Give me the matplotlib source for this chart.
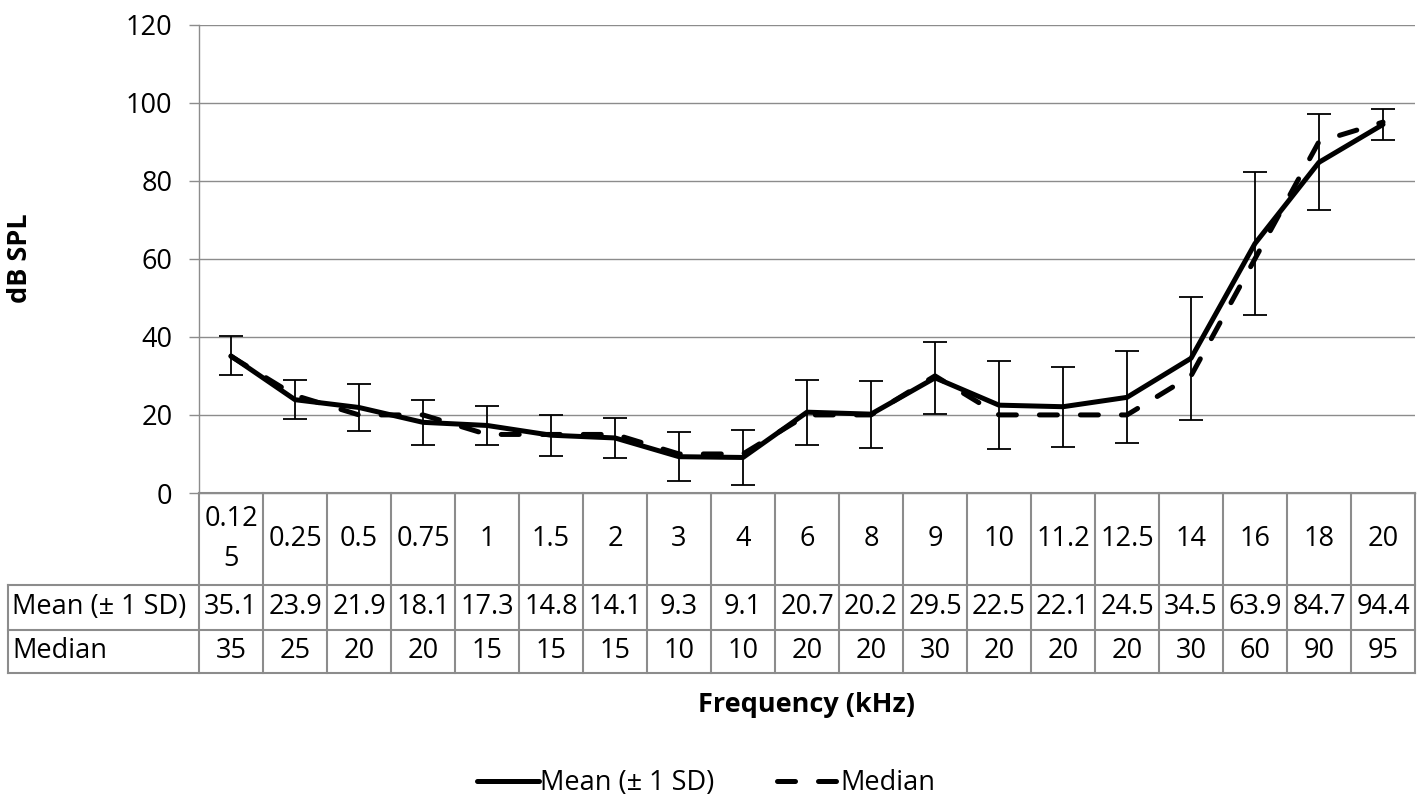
import matplotlib
matplotlib.use("Agg")
import matplotlib.pyplot as plt
import matplotlib.transforms as mtransforms
from matplotlib.lines import Line2D

# Datos
frecuencias = ["0.125", "0.25", "0.5", "0.75", "1", "1.5", "2", "3", "4", "6",
               "8", "9", "10", "11.2", "12.5", "14", "16", "18", "20"]
media = [35.1, 23.9, 21.9, 18.1, 17.3, 14.8, 14.1, 9.3, 9.1, 20.7,
         20.2, 29.5, 22.5, 22.1, 24.5, 34.5, 63.9, 84.7, 94.4]
mediana = [35, 25, 20, 20, 15, 15, 15, 10, 10, 20,
           20, 30, 20, 20, 20, 30, 60, 90, 95]
desv = [5.0, 5.0, 6.0, 5.8, 5.1, 5.2, 5.1, 6.2, 7.0, 8.3,
        8.6, 9.3, 11.3, 10.3, 11.8, 15.7, 18.2, 12.3, 4.0]
etiquetas_filas = ["Mean (± 1 SD)", "Median"]

plt.rcParams['font.family'] = ['Open Sans', 'DejaVu Sans']
FS = 19.5
gris = "#8c8c8c"

W, H = 1421, 800
fig = plt.figure(figsize=(W / 100, H / 100), dpi=100)
ax = fig.add_axes([199 / W, 1 - 493 / H, (1415 - 199) / W, (493 - 24.5) / H])

x = list(range(len(frecuencias)))
ax.errorbar(x, media, yerr=desv, fmt="none", ecolor="black", elinewidth=1.3,
            capsize=8.5, capthick=1.3, zorder=3)
ax.plot(x, media, color="black", lw=3.6, solid_capstyle="round",
        solid_joinstyle="round", zorder=4)
ax.plot(x, mediana, color="black", lw=3.6, dashes=(3.6, 4.6),
        dash_capstyle="round", zorder=5)

ax.set_xlim(-0.5, len(frecuencias) - 0.5)
ax.set_ylim(0, 120)
ax.set_yticks(range(0, 121, 20))
ax.set_xticks([])
ax.tick_params(axis="y", length=7.2, width=1, color=gris, labelsize=FS, pad=12)
ax.grid(True, axis="y", color=gris, lw=1)
ax.set_axisbelow(True)
for s in ["top", "right"]:
    ax.spines[s].set_visible(False)
for s in ["left", "bottom"]:
    ax.spines[s].set_color(gris)
    ax.spines[s].set_linewidth(1)

# Tabla de datos bajo el eje
alto = 493 - 24.5
y_enc = -92 / alto
y_med = -137 / alto
y_fin = -180 / alto
x_izq = (8 - 199) / (1415 - 199)
tr = mtransforms.blended_transform_factory(ax.transData, ax.transAxes)
kw = dict(color=gris, lw=1.5, clip_on=False)

n = len(frecuencias)
# lineas horizontales
ax.add_line(Line2D([-0.5, n - 0.5], [0, 0], transform=tr, **kw))
for yy in [y_enc, y_med, y_fin]:
    ax.add_line(Line2D([x_izq, 1], [yy, yy], transform=ax.transAxes, **kw))
# lineas verticales
for i in range(n + 1):
    ax.add_line(Line2D([i - 0.5, i - 0.5], [0, y_fin], transform=tr, **kw))
ax.add_line(Line2D([x_izq, x_izq], [y_enc, y_fin], transform=ax.transAxes, **kw))

for i, f in enumerate(frecuencias):
    txt = "0.12\n5" if f == "0.125" else f
    ax.text(i, y_enc / 2, txt, transform=tr, ha="center", va="center",
            fontsize=FS, linespacing=1.6)
    ax.text(i, (y_enc + y_med) / 2, f"{media[i]:g}", transform=tr,
            ha="center", va="center", fontsize=FS)
    ax.text(i, (y_med + y_fin) / 2, f"{mediana[i]:g}", transform=tr,
            ha="center", va="center", fontsize=FS)

x_lab = (12 - 199) / (1415 - 199)
ax.text(x_lab, (y_enc + y_med) / 2, etiquetas_filas[0], transform=ax.transAxes,
        ha="left", va="center", fontsize=FS)
ax.text(x_lab, (y_med + y_fin) / 2, etiquetas_filas[1], transform=ax.transAxes,
        ha="left", va="center", fontsize=FS)

fig.text(20 / W, 1 - 258 / H, "dB SPL", rotation=90, ha="center", va="center",
         fontsize=FS, fontweight="bold")
fig.text(807 / W, 1 - 705 / H, "Frequency (kHz)", ha="center", va="center",
         fontsize=FS, fontweight="bold")

h1 = Line2D([], [], color="black", lw=3.6, solid_capstyle="round")
h2 = Line2D([], [], color="black", lw=3.6, dashes=(3.6, 4.6), dash_capstyle="round")
fig.legend([h1, h2], etiquetas_filas, loc="center", bbox_to_anchor=(706 / W, 1 - 783 / H),
           ncol=2, frameon=False, fontsize=FS, handlelength=2.3, handletextpad=0.05,
           columnspacing=2.3)

fig.savefig("out.png", dpi=100)
